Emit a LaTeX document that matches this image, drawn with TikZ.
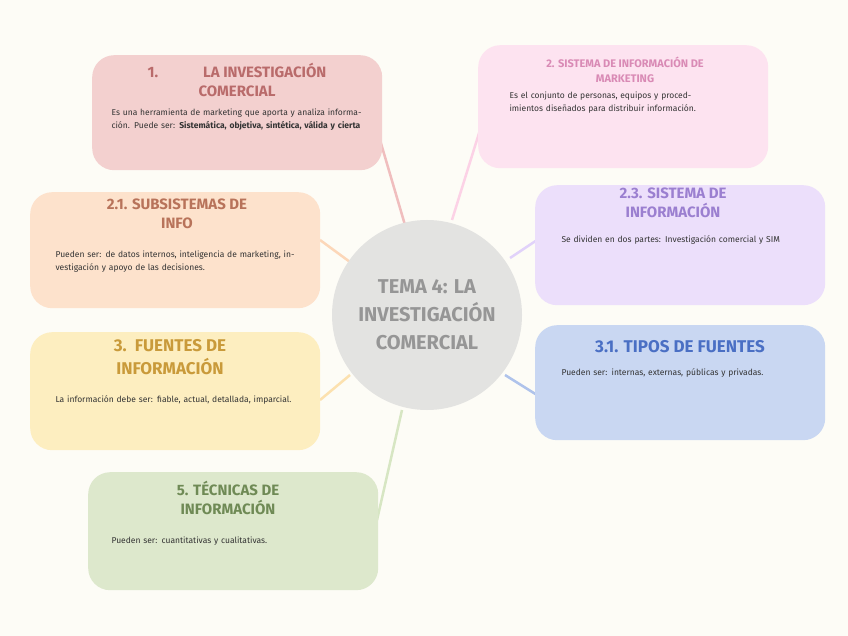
\documentclass[tikz,border=0pt]{standalone}
\usepackage{fontspec}
\setmainfont{Fira Sans}
\definecolor{bg}{HTML}{FDFCF6}
\begin{document}
\begin{tikzpicture}[x=1pt,y=-1pt,
 box/.style={rounded corners=22pt,minimum width=290pt,anchor=north west,inner sep=0pt},
 ttl/.style={font=\bfseries\fontsize{15}{19}\selectfont,align=center,anchor=north},
 body/.style={font=\fontsize{8.5}{13}\selectfont,align=left,anchor=north west,text width=#1,text=black!80},
 con/.style={line width=2.5pt}]
\fill[bg] (0,0) rectangle (848,636);
\useasboundingbox (0,0) rectangle (848,636);
% connectors
\coordinate (c1) at (380,140); \coordinate (c2) at (480,130);
\draw[con,color={rgb,255:red,240;green,190;blue,190}] (c1) -- (405,225);
\draw[con,color={rgb,255:red,252;green,210;blue,230}] (c2) -- (452,220);
\draw[con,color={rgb,255:red,252;green,215;blue,185}] (320,240) -- (350,262);
\draw[con,color={rgb,255:red,225;green,210;blue,250}] (537,240) -- (510,258);
\draw[con,color={rgb,255:red,252;green,225;blue,175}] (320,400) -- (350,375);
\draw[con,color={rgb,255:red,175;green,195;blue,235}] (537,395) -- (505,375);
\draw[con,color={rgb,255:red,215;green,230;blue,195}] (377,520) -- (402,410);
% centre
\node[circle,fill={rgb,255:red,227;green,227;blue,225},minimum size=190pt] (ctr) at (427,315) {};
\node[font=\bfseries\fontsize{20}{28}\selectfont,align=center,text={rgb,255:red,150;green,150;blue,150}] at (427,315) {TEMA 4: LA\\INVESTIGACIÓN\\COMERCIAL};
% boxes
\node[box,fill={rgb,255:red,243;green,208;blue,207},minimum height=115pt] (b1) at (92,55) {};
\node[ttl,text={rgb,255:red,185;green,107;blue,107}] at (237,60) {1.\hspace{3em}LA INVESTIGACIÓN\\COMERCIAL};
\node[body=255pt] at (108,105) {Es una herramienta de marketing que aporta y analiza información. Puede ser: \textbf{Sistemática, objetiva, sintética, válida y cierta}};
\node[box,fill={rgb,255:red,253;green,227;blue,240},minimum height=123pt] (b2) at (478,45) {};
\node[ttl,font=\bfseries\fontsize{11}{15}\selectfont,text={rgb,255:red,217;green,138;blue,181}] at (625,53) {2. SISTEMA DE INFORMACIÓN DE\\MARKETING};
\node[body=190pt] at (506,88) {Es el conjunto de personas, equipos y procedimientos diseñados para distribuir información.};
\node[box,fill={rgb,255:red,253;green,226;blue,204},minimum height=116pt] (b3) at (30,192) {};
\node[ttl,text={rgb,255:red,184;green,115;blue,90}] at (177,195) {2.1. SUBSISTEMAS DE\\INFO};
\node[body=250pt] at (52,247) {Pueden ser: de datos internos, inteligencia de marketing, investigación y apoyo de las decisiones.};
\node[box,fill={rgb,255:red,236;green,223;blue,251},minimum height=120pt] (b4) at (535,185) {};
\node[ttl,text={rgb,255:red,155;green,127;blue,208}] at (673,184) {2.3. SISTEMA DE\\INFORMACIÓN};
\node[body=260pt] at (558,232) {Se dividen en dos partes: Investigación comercial y SIM};
\node[box,fill={rgb,255:red,253;green,238;blue,192},minimum height=118pt] (b5) at (30,332) {};
\node[ttl,font=\bfseries\fontsize{17}{23}\selectfont,text={rgb,255:red,201;green,154;blue,58}] at (170,336) {3.\ \ FUENTES DE\\INFORMACIÓN};
\node[body=250pt] at (52,392) {La información debe ser: fiable, actual, detallada, imparcial.};
\node[box,fill={rgb,255:red,201;green,215;blue,242},minimum height=115pt] (b6) at (535,325) {};
\node[ttl,font=\bfseries\fontsize{17}{23}\selectfont,text={rgb,255:red,74;green,111;blue,196}] at (680,337) {3.1. TIPOS DE FUENTES};
\node[body=260pt] at (558,365) {Pueden ser: internas, externas, públicas y privadas.};
\node[box,fill={rgb,255:red,221;green,232;blue,204},minimum height=118pt] (b7) at (88,472) {};
\node[ttl,text={rgb,255:red,111;green,138;blue,85}] at (228,478) {5. TÉCNICAS DE\\INFORMACIÓN};
\node[body=250pt] at (108,533) {Pueden ser: cuantitativas y cualitativas.};
\end{tikzpicture}
\end{document}
